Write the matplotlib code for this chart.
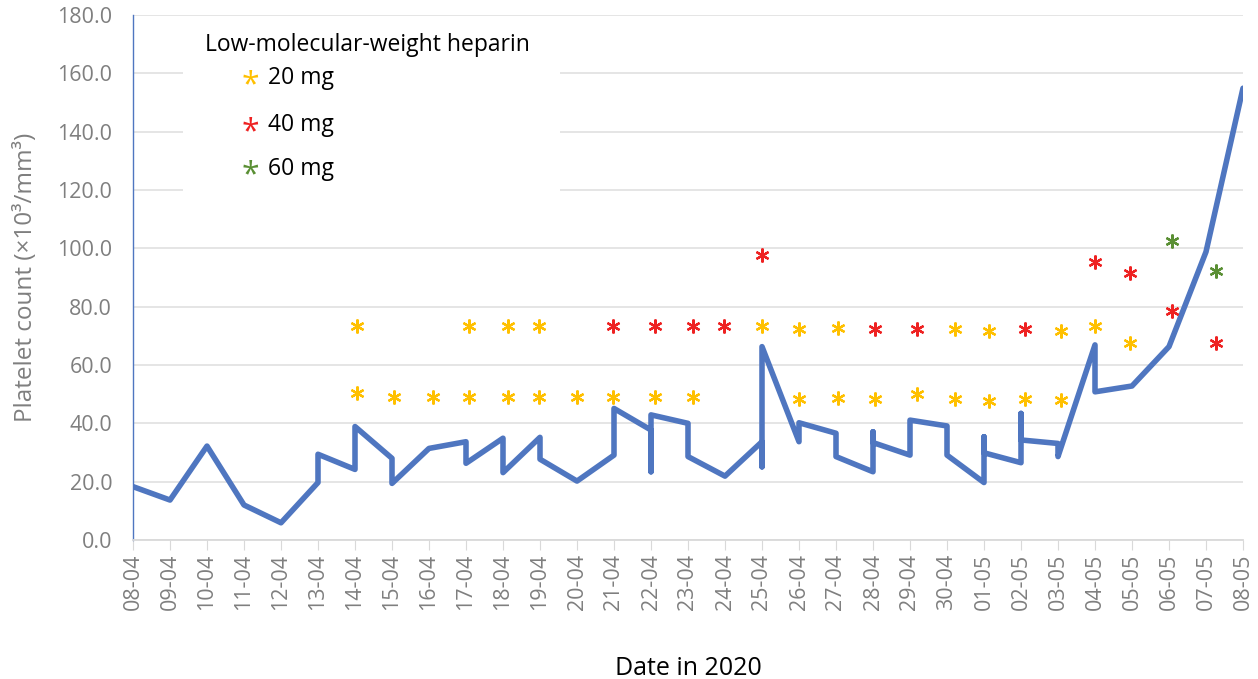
import matplotlib

matplotlib.use("Agg")
import matplotlib.pyplot as plt
from matplotlib.patches import Rectangle

plt.rcParams["font.family"] = ["Open Sans", "DejaVu Sans"]

# date labels on the x axis (one tick per day)
date_labels = [
    "08-04", "09-04", "10-04", "11-04", "12-04", "13-04", "14-04", "15-04",
    "16-04", "17-04", "18-04", "19-04", "20-04", "21-04", "22-04", "23-04",
    "24-04", "25-04", "26-04", "27-04", "28-04", "29-04", "30-04", "01-05",
    "02-05", "03-05", "04-05", "05-05", "06-05", "07-05", "08-05",
]

# platelet count, several measurements on some days (day index from 08-04)
count_day = [0, 1, 2, 3, 4, 5, 5, 6, 6, 7, 7, 8, 9, 9, 10, 10, 11, 11, 12, 13, 13,
             14, 14, 14, 15, 15, 16, 17, 17, 17, 18, 18, 19, 19, 20, 20, 20, 21, 21,
             22, 22, 23, 23, 23, 24, 24, 24, 25, 25, 26, 26, 27, 28, 29, 30]
count_value = [18.3, 13.7, 32.2, 12.0, 5.9, 19.7, 29.4, 24.2, 38.9, 28.0, 19.4, 31.4,
               33.7, 26.3, 34.9, 23.1, 35.2, 27.7, 20.2, 29.1, 45.1, 37.7, 23.4, 42.9,
               40.0, 28.6, 21.9, 33.7, 25.1, 66.3, 33.7, 40.2, 36.6, 28.6, 23.4, 37.1,
               33.4, 29.1, 41.1, 39.1, 29.1, 19.7, 35.4, 29.9, 26.5, 43.4, 34.3, 33.1,
               28.6, 66.9, 50.8, 52.8, 66.3, 98.8, 154.9]

# heparin doses (asterisks)
dose20_day = [6.05, 6.05, 7.06, 8.12, 9.09, 9.09, 10.14, 10.14, 10.97, 10.97, 11.99,
              12.96, 14.11, 15.13, 16.99, 18.01, 18.01, 19.06, 19.06, 20.05, 21.18,
              22.22, 22.22, 23.14, 23.14, 24.11, 25.08, 25.08, 26.0, 26.95]
dose20_y = [73.4, 50.3, 49.1, 49.1, 73.4, 49.1, 73.4, 49.1, 73.4, 49.1, 49.1,
            49.1, 49.1, 49.1, 73.4, 72.2, 48.2, 72.6, 48.8, 48.2, 50.0,
            72.2, 48.2, 71.8, 47.8, 48.2, 71.8, 48.0, 73.4, 67.4]
dose40_day = [12.96, 14.11, 15.13, 15.98, 17.0, 20.05, 21.18, 24.11, 26.0, 26.95, 28.07, 29.27]
dose40_y = [73.4, 73.4, 73.4, 73.4, 97.7, 72.2, 72.2, 72.2, 95.4, 91.7, 78.6, 67.6]
dose60_day = [28.07, 29.27]
dose60_y = [102.6, 92.3]

dose_labels = ["20 mg", "40 mg", "60 mg"]
dose_colors = ["#FFC000", "#EE2222", "#5A8F34"]

fig = plt.figure(figsize=(12.58, 6.79), dpi=100)
ax = fig.add_axes([133 / 1258, 1 - 540 / 679, 1110 / 1258, 525 / 679])

ax.plot(count_day, count_value, color="#4F76C0", lw=4.0,
        solid_joinstyle="round", solid_capstyle="round", zorder=3)

for days, ys, color in zip([dose20_day, dose40_day, dose60_day],
                           [dose20_y, dose40_y, dose60_y], dose_colors):
    ax.plot(days, ys, linestyle="none", marker=(6, 2, 0), markersize=10,
            markeredgewidth=1.6, color=color, zorder=4)

ax.set_xlim(0, len(date_labels) - 1)
ax.set_ylim(0, 180)
ax.set_xticks(range(len(date_labels)))
ax.set_xticklabels(date_labels, rotation=90, color="#7F7F7F", fontsize=15.5)
ax.set_yticks(range(0, 181, 20))
ax.set_yticklabels([f"{v:.1f}" for v in range(0, 181, 20)], color="#7F7F7F", fontsize=15.5)
ax.tick_params(axis="y", length=0, pad=15)
ax.tick_params(axis="x", length=7, color="#D9D9D9", pad=3)

ax.grid(axis="y", color="#E3E3E3", lw=1.3, zorder=0)
for side in ["top", "right"]:
    ax.spines[side].set_visible(False)
ax.spines["left"].set_color("#4F76C0")
ax.spines["left"].set_linewidth(1.0)
ax.spines["bottom"].set_color("#D9D9D9")
ax.spines["bottom"].set_linewidth(1.3)

ax.set_ylabel("Platelet count (×10³/mm³)", color="#7F7F7F", fontsize=17.5, labelpad=14)
ax.set_xlabel("Date in 2020", fontsize=18, labelpad=33)

# legend box drawn by hand, white panel hiding the grid
ax.add_patch(Rectangle((0.045, 0.648), 0.34, 0.345, transform=ax.transAxes,
                       facecolor="white", edgecolor="none", zorder=2))
ax.text(0.065, 0.943, "Low-molecular-weight heparin", transform=ax.transAxes,
        fontsize=16.5, va="center", ha="left", zorder=5)
for i, (label, color) in enumerate(zip(dose_labels, dose_colors)):
    yy = [0.880, 0.790, 0.707][i]
    ax.text(0.1054, yy - 0.014, "*", transform=ax.transAxes, color=color,
            fontsize=23, ha="center", va="center", zorder=5)
    ax.text(0.1216, yy, label, transform=ax.transAxes, fontsize=16.5,
            va="center", ha="left", zorder=5)

fig.savefig("out.png", dpi=100)
